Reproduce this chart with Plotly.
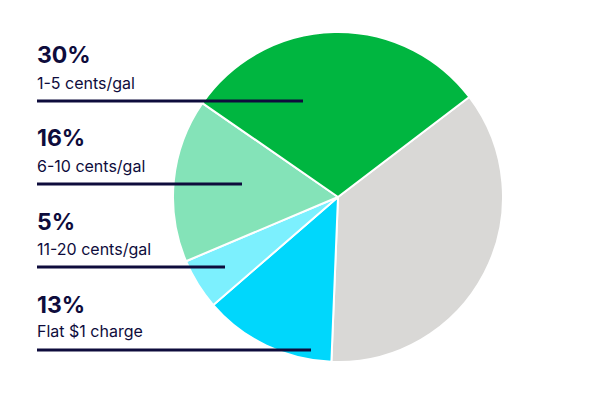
import plotly.graph_objects as go

# Data (clockwise order starting from the unlabeled gray remainder)
categories = ["Other", "Flat $1 charge", "11-20 cents/gal", "6-10 cents/gal", "1-5 cents/gal"]
shares = [36, 13, 5, 16, 30]
colors = ["#d9d8d6", "#00d7fc", "#7cf0fe", "#84e3b8", "#00b640"]

# Labeled callouts (top to bottom)
label_names = ["1-5 cents/gal", "6-10 cents/gal", "11-20 cents/gal", "Flat $1 charge"]
label_values = [30, 16, 5, 13]

# page body adds an 8px offset; work in reference pixels minus 8
OFF = 8
W, H = 591 - OFF, 413 - OFF
cx, cy, r = 338 - OFF, 197 - OFF, 165

fig = go.Figure(go.Pie(
    labels=categories, values=shares, sort=False, direction="clockwise",
    rotation=52.7, textinfo="none", hoverinfo="label+percent",
    marker=dict(colors=colors, line=dict(color="white", width=2)),
    domain=dict(x=[(cx - r) / W, (cx + r) / W], y=[(H - cy - r) / H, (H - cy + r) / H]),
    showlegend=False,
))

pct_y = [55, 138, 222, 305]
name_y = [83, 166, 249, 331]
line_y = [101, 184, 267, 350]
line_x1 = [303, 242, 225, 311]
x0 = 37
navy = "#0e0c3c"

shapes = []
annotations = []
for i, (nm, v) in enumerate(zip(label_names, label_values)):
    annotations.append(dict(
        x=(x0 - OFF) / W, y=(H - (pct_y[i] - OFF)) / H, xref="paper", yref="paper",
        xanchor="left", yanchor="middle", showarrow=False, xshift=-2,
        text=f"<b>{v}%</b>", font=dict(family="Inter", size=23, color=navy)))
    annotations.append(dict(
        x=(x0 - OFF) / W, y=(H - (name_y[i] - OFF)) / H, xref="paper", yref="paper",
        xanchor="left", yanchor="middle", showarrow=False, xshift=-2,
        text=nm, font=dict(family="Inter", size=16, color=navy)))
    yy = (H - (line_y[i] - OFF)) / H
    shapes.append(dict(
        type="line", xref="paper", yref="paper",
        x0=(x0 - OFF) / W, x1=(line_x1[i] - OFF) / W, y0=yy, y1=yy,
        line=dict(color=navy, width=3), layer="above"))

fig.update_layout(
    width=W, height=H, margin=dict(l=0, r=0, t=0, b=0),
    paper_bgcolor="white", plot_bgcolor="white",
    shapes=shapes, annotations=annotations,
)

fig.write_html("out.html")
